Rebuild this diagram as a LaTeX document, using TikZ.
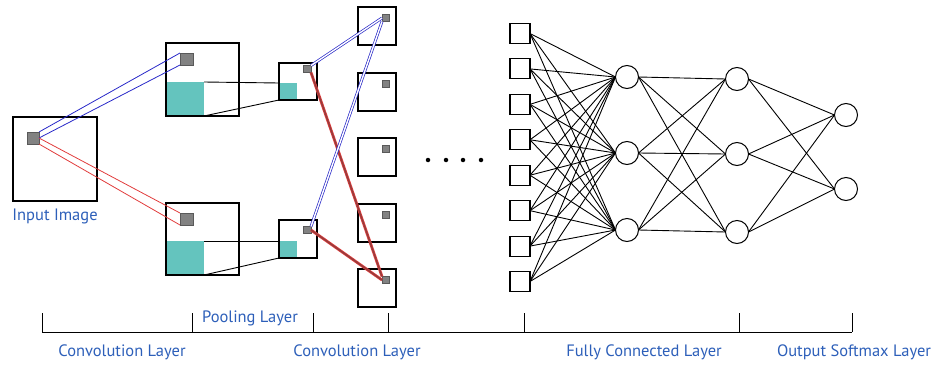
\documentclass[tikz,border=0pt]{standalone}
\usepackage{fontspec}
\setmainfont{PT Sans}
\definecolor{lblblue}{RGB}{45,95,185}
\definecolor{tealf}{RGB}{100,196,190}
\definecolor{sqgray}{RGB}{130,130,130}
\definecolor{bln}{RGB}{40,40,200}
\definecolor{rln}{RGB}{225,60,60}
\definecolor{rdark}{RGB}{150,60,60}
\begin{document}
\begin{tikzpicture}[x=1pt,y=-1pt,
  box/.style={draw=black, line width=1.3pt, inner sep=0pt, outer sep=0pt, fill=none},
  tealbox/.style={fill=tealf, draw=none, inner sep=0pt, outer sep=0pt},
  graysq/.style={fill=sqgray, draw=black!65, line width=0.5pt, inner sep=0pt, outer sep=0pt},
  blueband/.style={draw=bln, line width=0.8pt},
  redband/.style={draw=rln, line width=0.8pt},
  blueband2/.style={draw=bln, line width=0.7pt, double=white, double distance=1.4pt},
  redband2/.style={draw=rln, line width=0.7pt, double=rdark, double distance=1.4pt},
  link/.style={draw=black, line width=0.9pt},
  insq/.style={draw=black, line width=1.1pt, minimum width=20pt, minimum height=20pt, inner sep=0pt, outer sep=0pt},
  neuron/.style={circle, draw=black, line width=1pt, minimum size=23pt, inner sep=0pt, outer sep=0pt},
  lbl/.style={text=lblblue, font=\fontsize{16.5}{18}\selectfont, inner sep=0pt},
  tick/.style={draw=black, line width=1pt},
  dot/.style={circle, fill=black, minimum size=4.5pt, inner sep=0pt}
]
\useasboundingbox (0,0) rectangle (936,364);

% teal fills
\node[tealbox, minimum width=38pt, minimum height=34pt] (c1t) at (185,99) {};
\node[tealbox, minimum width=38pt, minimum height=34pt] (c2t) at (185,258) {};
\node[tealbox, minimum width=18pt, minimum height=17pt] (p1t) at (288,91.5) {};
\node[tealbox, minimum width=18pt, minimum height=17pt] (p2t) at (288,249.5) {};

% boxes
\node[box, minimum width=84pt, minimum height=84pt] (inp) at (55,159) {};
\node[box, minimum width=73pt, minimum height=73pt] (c1) at (202.5,79.5) {};
\node[box, minimum width=73pt, minimum height=72pt] (c2) at (202.5,239) {};
\node[box, minimum width=38pt, minimum height=37pt] (p1) at (298,81.5) {};
\node[box, minimum width=38pt, minimum height=38pt] (p2) at (298,239) {};
\foreach \i/\y in {1/26,2/92,3/157,4/223,5/288}{
  \node[box, minimum width=38pt, minimum height=38pt] (b\i) at (377,\y) {};
  \node[graysq, minimum width=7pt, minimum height=7pt] (b\i sq) at (385.5,\y-8) {};
}

% gray squares
\node[graysq, minimum width=12pt, minimum height=12pt] (isq) at (33,138) {};
\node[graysq, minimum width=13pt, minimum height=12pt] (c1sq) at (186.5,59) {};
\node[graysq, minimum width=13pt, minimum height=12pt] (c2sq) at (186.5,219) {};
\node[graysq, minimum width=8pt, minimum height=7pt] (p1sq) at (307,69) {};
\node[graysq, minimum width=8pt, minimum height=7pt] (p2sq) at (307,230) {};

% first stage bands
\draw[blueband] (isq.north east) -- (c1sq.north west);
\draw[blueband] (isq.east) -- (c1sq.south west);
\draw[redband] (isq.east) -- (c2sq.north west);
\draw[redband] (isq.south east) -- (c2sq.south west);

% teal to pooling links
\draw[link] (c1t.north east) -- (p1t.north west);
\draw[link] (c1t.south east) -- (p1t.south west);
\draw[link] (c2t.north east) -- (p2t.north west);
\draw[link] (c2t.south east) -- (p2t.south west);

% second stage bands
\draw[redband2] (p1sq.south east) -- (b5sq.north west);
\draw[redband2] (p2sq.east) -- (b5sq.west);
\draw[blueband2] (p1sq.north east) -- (b1sq.west);
\draw[blueband2] (p2sq.north east) -- (b1sq.south west);

% dots
\foreach \x [count=\k] in {428,446,463,481}{
  \node[dot] (d\k) at (\x,160) {};
}

% fully connected network
\foreach \k in {1,...,8}{
  \node[insq] (s\k) at (520,{33.5+35.43*(\k-1)}) {};
}
\node[neuron] (h1) at (627,77) {};
\node[neuron] (h2) at (627,153) {};
\node[neuron] (h3) at (627,230) {};
\node[neuron] (g1) at (737,79) {};
\node[neuron] (g2) at (737,154) {};
\node[neuron] (g3) at (737,232) {};
\node[neuron] (o1) at (846,115) {};
\node[neuron] (o2) at (846,189) {};
\foreach \k in {1,...,8}{
  \foreach \j in {1,2,3}{
    \draw[link] (s\k.east) -- (h\j.west);
  }
}
\foreach \k in {1,2,3}{
  \foreach \j in {1,2,3}{
    \draw[link] (h\k.east) -- (g\j.west);
  }
}
\foreach \k in {1,2,3}{
  \foreach \j in {1,2}{
    \draw[link] (g\k.east) -- (o\j.west);
  }
}

% bracket
\coordinate (t1) at (42,332);
\coordinate (t7) at (852,332);
\draw[tick] (t1) -- (t7);
\foreach \x [count=\k] in {42,192,313,388,524,739,852}{
  \coordinate (tk\k) at (\x,313);
  \coordinate (tb\k) at (\x,332);
  \draw[tick] (tk\k) -- (tb\k);
}

% labels
\node[lbl] (linp) at (55,216) {Input Image};
\node[lbl] (lpool) at (250,318) {Pooling Layer};
\node[lbl] (lconv1) at (122,352) {Convolution Layer};
\node[lbl] (lconv2) at (357,352) {Convolution Layer};
\node[lbl] (lfc) at (644,352) {Fully Connected Layer};
\node[lbl] (lout) at (854,352) {Output Softmax Layer};
\end{tikzpicture}
\end{document}
